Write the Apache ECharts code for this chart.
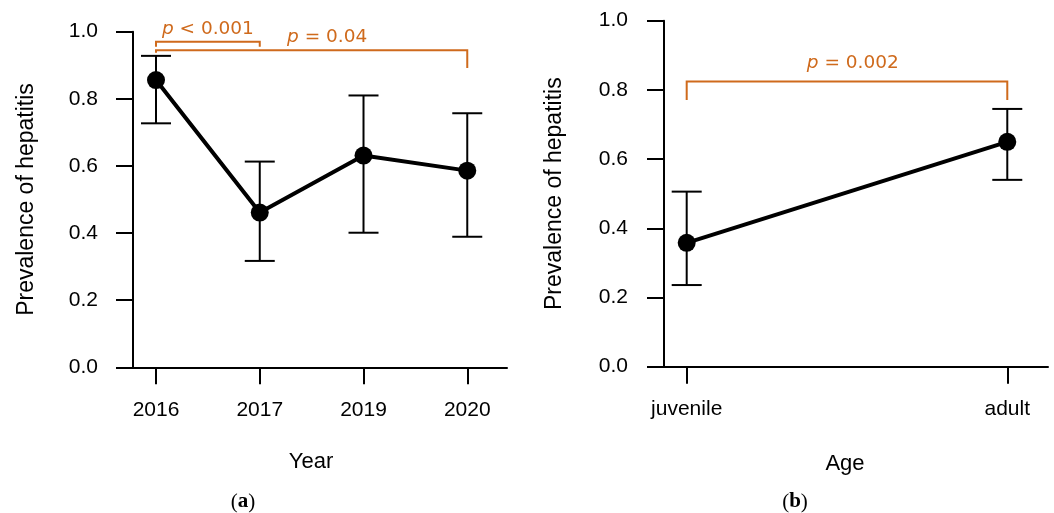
<!DOCTYPE html>
<html>
<head>
<meta charset="utf-8">
<script src="https://cdn.jsdelivr.net/npm/echarts@6/dist/echarts.min.js"></script>
<style>
html,body{margin:0;padding:0;background:#fff;}
#c{width:1054px;height:513px;}
</style>
</head>
<body>
<div id="c"></div>
<script>
// ---- data ----
const yearCats = ['2016', '2017', '2019', '2020'];
const yearPrev = [0.856, 0.461, 0.631, 0.586];
const yearLow  = [0.727, 0.317, 0.401, 0.389];
const yearHigh = [0.928, 0.613, 0.810, 0.757];

const ageCats = ['juvenile', 'adult'];
const agePrev = [0.358, 0.650];
const ageLow  = [0.236, 0.540];
const ageHigh = [0.506, 0.745];

// brackets: [xStart, xEnd, yTop, yLeftEnd, yRightEnd]
const bracketsA = [[0, 1, 0.970, 0.955, 0.955], [0, 3, 0.945, 0.937, 0.892]];
const pTextA = [[0.5, 1.006, '< 0.001'], [1.65, 0.985, '= 0.04']];
const bracketsB = [[0, 1, 0.824, 0.771, 0.771]];
const pTextB = [[0.518, 0.876, '= 0.002']];

const ORANGE = '#cf6a1c';
const SANS = 'Liberation Sans';

function xy(vals) { return vals.map((v, i) => [i, v]); }
function errData(low, high) { return low.map((l, i) => [i, l, high[i]]); }

function errRender(params, api) {
  const x = api.value(0);
  const lo = api.coord([x, api.value(1)]);
  const hi = api.coord([x, api.value(2)]);
  const hw = 15;
  const st = { stroke: '#000', lineWidth: 2 };
  return { type: 'group', children: [
    { type: 'line', shape: { x1: lo[0], y1: lo[1], x2: hi[0], y2: hi[1] }, style: st },
    { type: 'line', shape: { x1: lo[0] - hw, y1: lo[1], x2: lo[0] + hw, y2: lo[1] }, style: st },
    { type: 'line', shape: { x1: hi[0] - hw, y1: hi[1], x2: hi[0] + hw, y2: hi[1] }, style: st }
  ]};
}
function bracketRender(params, api) {
  const x1 = api.value(0), x2 = api.value(1);
  const a = api.coord([x1, api.value(3)]);
  const b = api.coord([x1, api.value(2)]);
  const c = api.coord([x2, api.value(2)]);
  const d = api.coord([x2, api.value(4)]);
  return { type: 'polyline', shape: { points: [a, b, c, d] },
    style: { stroke: ORANGE, lineWidth: 2, fill: null } };
}
function makeTextRender(texts) {
  return function (params, api) {
    const p = api.coord([api.value(0), api.value(1)]);
    return { type: 'text', x: p[0], y: p[1], style: {
      text: '{i|p} ' + texts[params.dataIndex],
      rich: { i: { fontStyle: 'italic', fontFamily: 'DejaVu Sans', fontSize: 18.5, fill: ORANGE } },
      fontFamily: 'DejaVu Sans', fontSize: 18.5, fill: ORANGE,
      align: 'center', verticalAlign: 'middle' } };
  };
}

const tickStyle = { show: true, length: 17, lineStyle: { color: '#000', width: 2 } };

function yAxisCfg(gridIndex, margin, gap) {
  return {
    type: 'value', gridIndex, min: 0, max: 1, interval: 0.2,
    axisLine: { show: true, onZero: false, lineStyle: { color: '#000', width: 2 } },
    axisTick: tickStyle, splitLine: { show: false },
    axisLabel: { margin, color: '#000', fontSize: 21, fontFamily: SANS, formatter: v => v.toFixed(1) },
    name: 'Prevalence of hepatitis', nameLocation: 'middle', nameGap: gap,
    nameTextStyle: { color: '#000', fontSize: 23, fontFamily: SANS }
  };
}
function xAxisCfg(gridIndex, cats, min, max, name, gap, shift) {
  const vals = cats.map((c, i) => i);
  return {
    type: 'value', gridIndex, min, max,
    axisLine: { show: true, onZero: false, lineStyle: { color: '#000', width: 2 } },
    splitLine: { show: false },
    axisTick: Object.assign({ customValues: vals }, tickStyle),
    axisLabel: { customValues: vals, margin: 32, color: '#000', fontSize: 21, fontFamily: SANS,
      formatter: v => cats[Math.round(v)] },
    name, nameLocation: 'middle', nameGap: gap,
    nameTextStyle: { color: '#000', fontSize: 22, fontFamily: SANS, padding: [0, shift, 0, 0] }
  };
}

const chart = echarts.init(document.getElementById('c'), null, { renderer: 'canvas' });
chart.setOption({
  backgroundColor: '#fff',
  animation: false,
  grid: [
    { left: 133, top: 31.7, width: 374, bottom: 145.7 },
    { left: 664, top: 20.7, width: 384, bottom: 146.3 }
  ],
  xAxis: [
    xAxisCfg(0, yearCats, -0.2217, 3.383, 'Year', 84, 18),
    xAxisCfg(1, ageCats, -0.0708, 1.127, 'Age', 86, 22)
  ],
  yAxis: [ yAxisCfg(0, 35, 95), yAxisCfg(1, 36, 98) ],
  graphic: [
    { type: 'text', x: 243, y: 502, style: { text: '({b|a})', rich: { b: { fontWeight: 'bold', fontFamily: 'Liberation Serif', fontSize: 21, fill: '#000' } }, fontFamily: 'Liberation Serif', fontSize: 21, fill: '#000', align: 'center', verticalAlign: 'middle' } },
    { type: 'text', x: 795, y: 502, style: { text: '({b|b})', rich: { b: { fontWeight: 'bold', fontFamily: 'Liberation Serif', fontSize: 21, fill: '#000' } }, fontFamily: 'Liberation Serif', fontSize: 21, fill: '#000', align: 'center', verticalAlign: 'middle' } }
  ],
  series: [
    { type: 'custom', xAxisIndex: 0, yAxisIndex: 0, renderItem: errRender, data: errData(yearLow, yearHigh), encode: { x: 0, y: [1, 2] }, z: 2 },
    { type: 'line', xAxisIndex: 0, yAxisIndex: 0, data: xy(yearPrev), symbol: 'circle', symbolSize: 18,
      lineStyle: { color: '#000', width: 4 }, itemStyle: { color: '#000' }, z: 3 },
    { type: 'custom', xAxisIndex: 0, yAxisIndex: 0, renderItem: bracketRender, data: bracketsA, encode: { x: [0, 1], y: [2, 3, 4] }, z: 4 },
    { type: 'custom', xAxisIndex: 0, yAxisIndex: 0, renderItem: makeTextRender(pTextA.map(d => d[2])), data: pTextA.map(d => [d[0], d[1]]), encode: { x: 0, y: 1 }, z: 4 },

    { type: 'custom', xAxisIndex: 1, yAxisIndex: 1, renderItem: errRender, data: errData(ageLow, ageHigh), encode: { x: 0, y: [1, 2] }, z: 2 },
    { type: 'line', xAxisIndex: 1, yAxisIndex: 1, data: xy(agePrev), symbol: 'circle', symbolSize: 18,
      lineStyle: { color: '#000', width: 4 }, itemStyle: { color: '#000' }, z: 3 },
    { type: 'custom', xAxisIndex: 1, yAxisIndex: 1, renderItem: bracketRender, data: bracketsB, encode: { x: [0, 1], y: [2, 3, 4] }, z: 4 },
    { type: 'custom', xAxisIndex: 1, yAxisIndex: 1, renderItem: makeTextRender(pTextB.map(d => d[2])), data: pTextB.map(d => [d[0], d[1]]), encode: { x: 0, y: 1 }, z: 4 }
  ]
});
</script>
</body>
</html>
